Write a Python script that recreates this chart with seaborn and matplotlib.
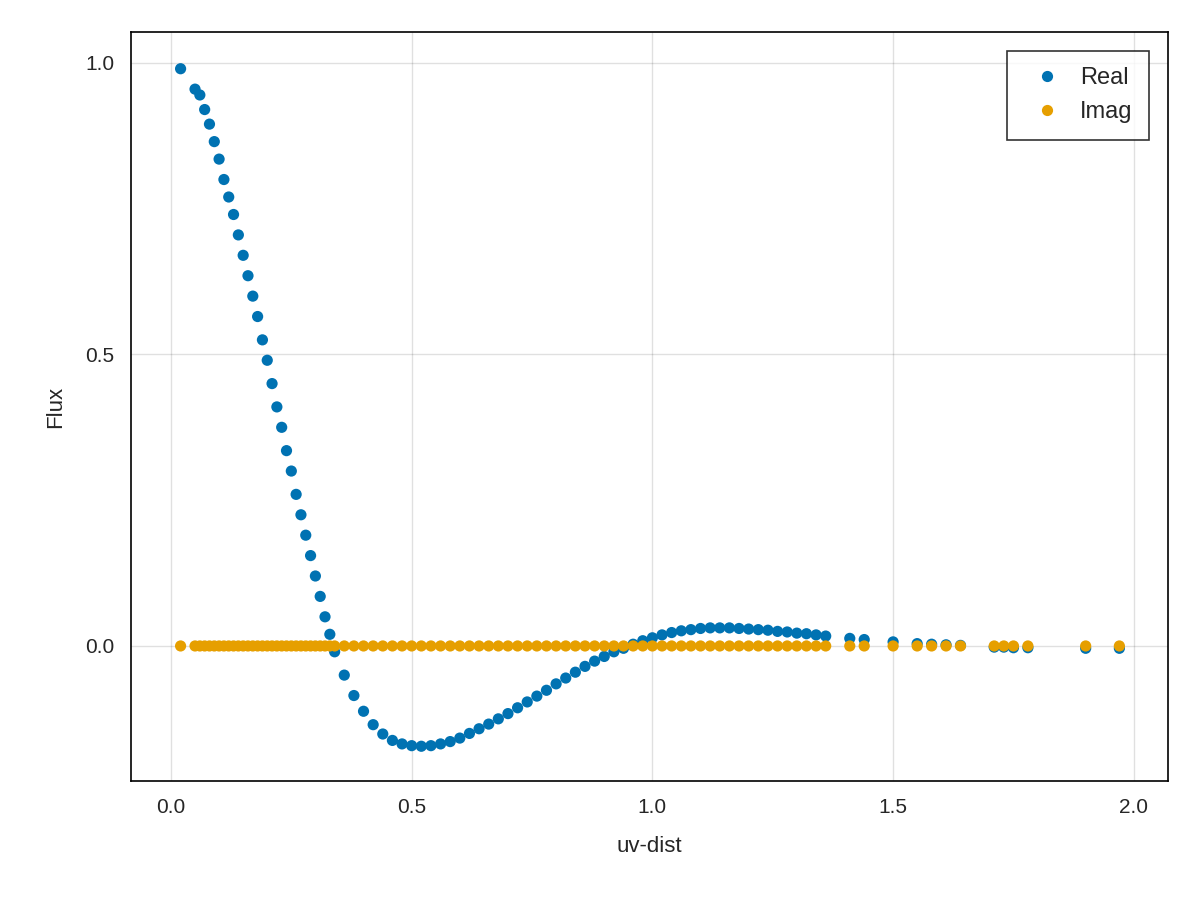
import matplotlib
matplotlib.use("Agg")
import matplotlib.pyplot as plt
import seaborn as sns
import pandas as pd

uv = [0.02,0.05,0.06,0.07,0.08,0.09,0.10,0.11,0.12,0.13,0.14,0.15,0.16,0.17,0.18,0.19,0.20,
      0.21,0.22,0.23,0.24,0.25,0.26,0.27,0.28,0.29,0.30,0.31,0.32,0.33,
      0.34,0.36,0.38,0.40,0.42,0.44,0.46,0.48,0.50,0.52,0.54,0.56,0.58,0.60,0.62,0.64,0.66,0.68,
      0.70,0.72,0.74,0.76,0.78,0.80,0.82,0.84,0.86,0.88,0.90,0.92,0.94,0.96,0.98,1.00,1.02,1.04,
      1.06,1.08,1.10,1.12,1.14,1.16,1.18,1.20,1.22,1.24,1.26,1.28,1.30,1.32,1.34,1.36,
      1.41,1.44,1.50,1.55,1.58,1.61,1.64,1.71,1.73,1.75,1.78,1.90,1.97]
real = [0.99,0.955,0.945,0.92,0.895,0.865,0.835,0.80,0.77,0.74,0.705,0.67,0.635,0.60,0.565,0.525,0.49,
        0.45,0.41,0.375,0.335,0.30,0.26,0.225,0.19,0.155,0.12,0.085,0.05,0.02,
        -0.01,-0.05,-0.085,-0.112,-0.135,-0.151,-0.162,-0.168,-0.171,-0.172,-0.171,-0.168,-0.164,-0.158,-0.150,-0.142,-0.134,-0.125,
        -0.116,-0.106,-0.096,-0.086,-0.076,-0.065,-0.055,-0.045,-0.035,-0.026,-0.018,-0.010,-0.004,0.003,0.009,0.014,0.019,0.023,
        0.026,0.028,0.030,0.031,0.031,0.031,0.030,0.029,0.028,0.027,0.025,0.024,0.022,0.021,0.019,0.017,
        0.013,0.011,0.007,0.004,0.003,0.002,0.001,-0.002,-0.002,-0.003,-0.003,-0.004,-0.004]
imag = [0.0] * len(uv)

df = pd.concat([pd.DataFrame({"uv": uv, "flux": real, "kind": "Real"}),
                pd.DataFrame({"uv": uv, "flux": imag, "kind": "Imag"})])

sns.set_style("white")
plt.rcParams['font.family'] = ['Liberation Sans', 'DejaVu Sans']
fig = plt.figure(figsize=(12, 9), dpi=100)
ax = fig.add_axes([131/1200, 1-781/900, (1168-131)/1200, (781-32)/900])
sns.scatterplot(data=df, x="uv", y="flux", hue="kind",
                palette={"Real": "#0072B2", "Imag": "#E69F00"},
                s=65, linewidth=0, ax=ax)
ax.set_xlim(-0.083, 2.071)
ax.set_ylim(-0.2316, 1.053)
ax.set_xticks([0.0, 0.5, 1.0, 1.5, 2.0])
ax.set_yticks([0.0, 0.5, 1.0])
ax.grid(True, color="#000000", alpha=0.12, linewidth=1)
ax.set_axisbelow(True)
for s in ax.spines.values():
    s.set_color("black"); s.set_linewidth(1.2)
ax.tick_params(labelsize=15, length=0, pad=12)
ax.set_xlabel("uv-dist", fontsize=16, labelpad=14)
ax.set_ylabel("Flux", fontsize=16, labelpad=14)
leg = ax.legend(title=None, loc="upper right", fontsize=17, frameon=True, fancybox=False,
                edgecolor="black", markerscale=1.0, borderpad=0.7, handletextpad=0.4,
                borderaxespad=0.8)
leg.get_frame().set_linewidth(1.2)
fig.savefig("out.png", dpi=100)
